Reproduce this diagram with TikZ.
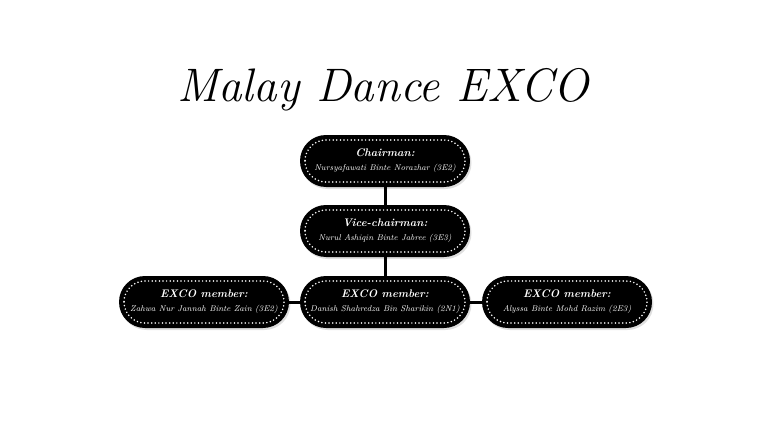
\documentclass[tikz,border=0pt]{standalone}
\usetikzlibrary{shadows}

\newcommand{\postrole}[1]{{\fontsize{11}{13}\selectfont\itshape\bfseries #1}}
\newcommand{\postname}[1]{{\fontsize{8.4}{10}\selectfont\itshape #1}}

\begin{document}
\begin{tikzpicture}[
    x=1pt, y=1pt,
    post/.style={rectangle, fill=black, text=white, minimum width=170pt, minimum height=52pt,
        rounded corners=26pt, inner sep=0pt, align=center,
        drop shadow={opacity=0.25, shadow xshift=1.5pt, shadow yshift=-2pt},
        path picture={\draw[white, line width=1.7pt, line cap=round, dash pattern=on 0pt off 3.6pt, rounded corners=21pt]
            ([shift={(5pt,-5pt)}]path picture bounding box.north west) rectangle
            ([shift={(-5pt,5pt)}]path picture bounding box.south east);}},
    link/.style={line width=3pt, black}
]
\useasboundingbox (0,0) rectangle (768,432);

% title
\node[font=\fontsize{47}{52}\selectfont\itshape] (title) at (383,342) {Malay Dance EXCO};

% posts
\node[post] (chair) at (385,271) {\postrole{Chairman:}\\[2pt]\postname{Nursyafawati Binte Norazhar (3E2)}};
\node[post] (vice) at (385,201) {\postrole{Vice-chairman:}\\[2pt]\postname{Nurul Ashiqin Binte Jabree (3E3)}};
\node[post] (exco1) at (204,130) {\postrole{EXCO member:}\\[2pt]\postname{Zahwa Nur Jannah Binte Zain (3E2)}};
\node[post] (exco2) at (385,130) {\postrole{EXCO member:}\\[2pt]\postname{Danish Shahredza Bin Sharikin (2N1)}};
\node[post] (exco3) at (567,130) {\postrole{EXCO member:}\\[2pt]\postname{Alyssa Binte Mohd Razim (2E3)}};

% links
\draw[link] (chair) -- (vice);
\draw[link] (vice) -- (exco2);
\draw[link] (exco1) -- (exco2);
\draw[link] (exco2) -- (exco3);

\end{tikzpicture}
\end{document}
